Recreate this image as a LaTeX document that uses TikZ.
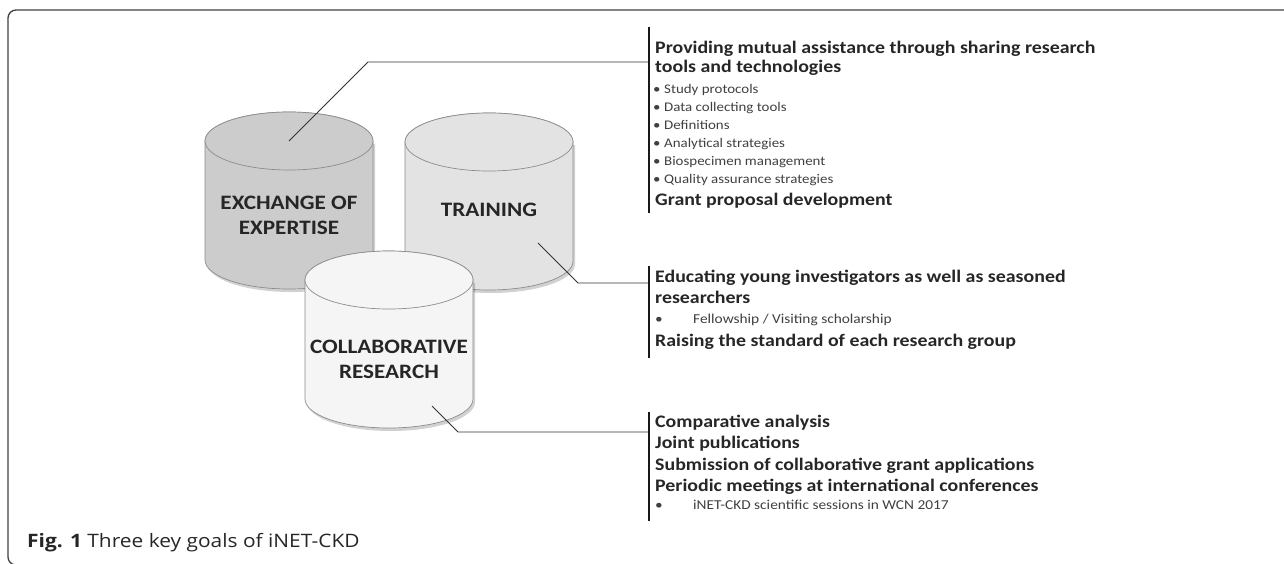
\documentclass[tikz,border=0pt]{standalone}
\usepackage{fontspec}
\setmainfont{Carlito}[FakeStretch=1.13]
\newfontfamily\capfont{Open Sans}[FakeStretch=1.13]
\usetikzlibrary{calc}

\begin{document}
\begin{tikzpicture}[x=1pt,y=1pt,
drum/.style={draw=black!45, line width=0.7pt},
lbl/.style={font=\fontsize{20.5}{25}\selectfont\bfseries, align=center, text=black!85},
hd/.style={anchor=base west, inner sep=0, font=\fontsize{17.6}{20}\selectfont\bfseries, text=black!85},
it/.style={anchor=base west, inner sep=0, font=\fontsize{13.2}{16}\selectfont, text=black!75},
it2/.style={it, font=\fontsize{13.6}{16}\selectfont},
lead/.style={draw=black!80, line width=0.9pt},
bar/.style={draw=black!90, line width=1.8pt}]
	\useasboundingbox (0,0) rectangle (1284,-563);
	\draw[black!75, line width=1.3pt, rounded corners=8pt] (1300,-10) -- (8,-10) -- (8,-565) -- (40,-565);
	\foreach \cx/\cy/\cf/\nm in {289/141/black!20/exc, 489/142/black!11/trn, 389/280/black!4/col}{
		\fill[black, opacity=.18, shift={(2,-3)}] (\cx-84,-\cy) -- (\cx-84,-\cy-119) arc[start angle=180, end angle=360, x radius=84pt, y radius=29pt] -- (\cx+84,-\cy) -- cycle;
		\filldraw[drum, fill=\cf] (\cx-84,-\cy) -- (\cx-84,-\cy-119) arc[start angle=180, end angle=360, x radius=84pt, y radius=29pt] -- (\cx+84,-\cy) arc[start angle=0, end angle=180, x radius=84pt, y radius=29pt] -- cycle;
		\filldraw[drum, fill=\cf] (\cx,-\cy) ellipse[x radius=84pt, y radius=29pt];
		\coordinate (\nm) at (\cx,-\cy);
	}
	\node[lbl] (exct) at (289,-215) {EXCHANGE OF\\EXPERTISE};
	\node[lbl] (trnt) at (489,-210) {TRAINING};
	\node[lbl] (colt) at (389,-359) {COLLABORATIVE\\RESEARCH};
	\coordinate (k1) at (368,-62);
	\coordinate (p2) at (538,-243);
	\coordinate (k2) at (578,-283);
	\coordinate (p3) at (432,-406);
	\coordinate (k3) at (458,-432);
	\coordinate (b1) at (649,-62);
	\coordinate (b2) at (649,-283);
	\coordinate (b3) at (649,-432);
	\draw[lead] (exc) -- (k1) -- (b1);
	\draw[lead] (p2) -- (k2) -- (b2);
	\draw[lead] (p3) -- (k3) -- (b3);
	\draw[bar] (649,-27) -- (649,-213);
	\draw[bar] (649,-266) -- (649,-358);
	\draw[bar] (649,-412) -- (649,-521);
	\node[hd] (h11) at (655,-53) {Providing mutual assistance through sharing research};
	\node[hd] (h12) at (655,-72) {tools and technologies};
	\foreach \t [count=\i] in {Study protocols, Data collecting tools, Definitions, Analytical strategies, Biospecimen management, Quality assurance strategies}{
		\node[it] (d\i) at (653,-93-18*\i+18) {•};
		\node[it] (s\i) at (664,-93-18*\i+18) {\t};
	}
	\node[hd] (h13) at (655,-205) {Grant proposal development};
	\node[hd] (h21) at (655,-282) {Educating young investigators as well as seasoned};
	\node[hd] (h22) at (655,-303) {researchers};
	\node[it2] (d21) at (655,-323) {•};
	\node[it2] (s21) at (693,-323) {Fellowship / Visiting scholarship};
	\node[hd] (h23) at (655,-346) {Raising the standard of each research group};
	\node[hd] (h31) at (655,-427) {Comparative analysis};
	\node[hd] (h32) at (655,-448) {Joint publications};
	\node[hd] (h33) at (655,-470) {Submission of collaborative grant applications};
	\node[hd] (h34) at (655,-491) {Periodic meetings at international conferences};
	\node[it2] (d31) at (655,-509) {•};
	\node[it2] (s31) at (693,-509) {iNET-CKD scientific sessions in WCN 2017};
	\node[anchor=base west, inner sep=0, font=\capfont\fontsize{18.5}{20}\selectfont, text=black!85] (cap) at (27,-547) {\textbf{Fig. 1} Three key goals of iNET-CKD};
\end{tikzpicture}
\end{document}
